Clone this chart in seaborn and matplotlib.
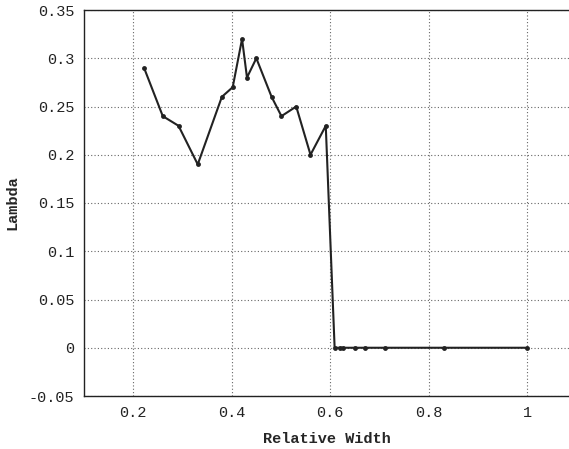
import matplotlib
matplotlib.use("Agg")
import matplotlib.pyplot as plt
import seaborn as sns
import pandas as pd

relative_width = [0.222, 0.26, 0.292, 0.331, 0.38, 0.402, 0.421, 0.431, 0.45, 0.481,
                  0.501, 0.531, 0.56, 0.591, 0.609, 0.619, 0.626, 0.651, 0.67, 0.711,
                  0.831, 1.0]
lambda_vals = [0.29, 0.24, 0.23, 0.19, 0.26, 0.27, 0.32, 0.28, 0.30, 0.26,
               0.24, 0.25, 0.20, 0.23, 0.0, 0.0, 0.0, 0.0, 0.0, 0.0,
               0.0, 0.0]
x_ticks = [0.2, 0.4, 0.6, 0.8, 1.0]
x_tick_labels = ["0.2", "0.4", "0.6", "0.8", "1"]
y_ticks = [-0.05, 0, 0.05, 0.1, 0.15, 0.2, 0.25, 0.3, 0.35]
y_tick_labels = ["-0.05", "0", "0.05", "0.1", "0.15", "0.2", "0.25", "0.3", "0.35"]

df = pd.DataFrame({"Relative Width": relative_width, "Lambda": lambda_vals})

sns.set_style("white")
plt.rcParams["font.family"] = ["Liberation Mono", "DejaVu Sans Mono"]

fig = plt.figure(figsize=(5.69, 4.49), dpi=100)
ax = fig.add_axes([84 / 569, 1 - 396 / 449, 1 - 84 / 569, (396 - 10) / 449])

sns.lineplot(data=df, x="Relative Width", y="Lambda", ax=ax, color="#222222",
             linewidth=1.5, marker="o", markersize=3.5, markeredgewidth=0,
             markerfacecolor="#222222", sort=False)

ax.set_xlim(0.1, 1.085)
ax.set_ylim(-0.05, 0.35)
ax.set_xticks(x_ticks)
ax.set_xticklabels(x_tick_labels)
ax.set_yticks(y_ticks)
ax.set_yticklabels(y_tick_labels)
ax.grid(True, linestyle=(0, (1, 2)), color="#666666", linewidth=0.8)
ax.tick_params(direction="in", length=4, width=0.8, labelsize=11, colors="#222222",
               pad=7)
for s in ["left", "bottom", "top"]:
    ax.spines[s].set_visible(True)
    ax.spines[s].set_color("#222222")
    ax.spines[s].set_linewidth(1.0)
ax.spines["right"].set_visible(False)
ax.set_xlabel("Relative Width", fontsize=11, fontweight="bold", labelpad=9)
ax.set_ylabel("Lambda", fontsize=11, fontweight="bold", labelpad=7)

fig.savefig("out.png", dpi=100)
